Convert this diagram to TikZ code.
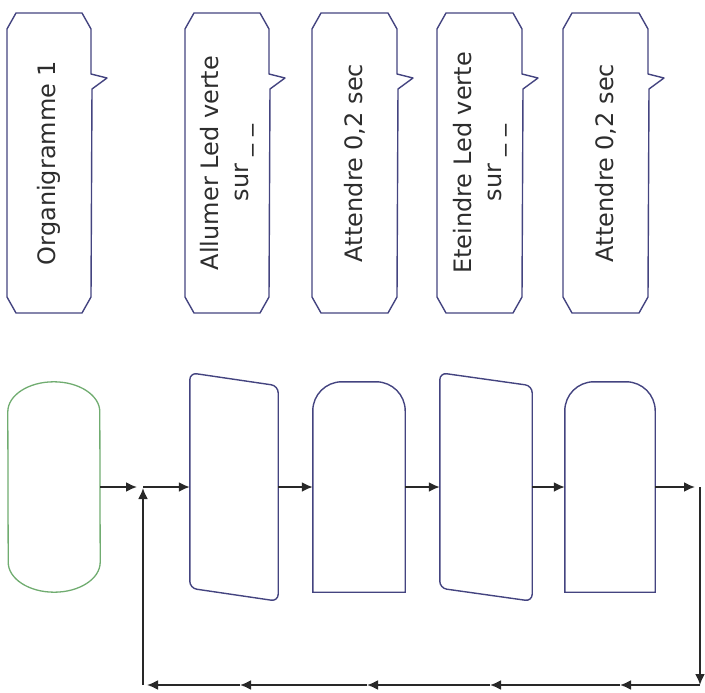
\documentclass[tikz,border=0pt]{standalone}
\usepackage{fontspec}
\setmainfont{DejaVu Sans}
\usetikzlibrary{arrows.meta, calc}

\definecolor{cadre}{RGB}{68,68,128}
\definecolor{vertdebut}{RGB}{112,172,112}
\definecolor{trait}{RGB}{40,40,40}
\definecolor{texte}{RGB}{45,45,45}

% bulle de commentaire : bord gauche, bord droit
\newcommand{\bulle}[2]{%
	\draw[Bulle] (#1+9,-13) -- (#2-9,-13) -- (#2,-29) -- (#2,-74) -- (#2+16,-78)
		-- (#2+1,-89) -- (#2,-297) -- (#2-9,-313) -- (#1+9,-313) -- (#1,-297)
		-- (#1,-29) -- cycle;}

% bloc attente (haut arrondi)
\newcommand{\attente}[1]{%
	\draw[Forme] (#1.south west) -- ($(#1.north west)+(0,-29)$)
		arc[start angle=180, end angle=90, radius=29]
		-- ($(#1.north east)+(-29,0)$)
		arc[start angle=90, end angle=0, radius=29]
		-- (#1.south east) -- cycle;}

% bloc action (haut et bas en pente)
\newcommand{\action}[1]{%
	\draw[Forme, rounded corners=7pt] ($(#1.south west)+(0,13)$) -- (#1.north west)
		-- ($(#1.north east)+(0,-13)$) -- (#1.south east) -- cycle;}

\begin{document}
\begin{tikzpicture}[x=1pt, y=1pt]
			\tikzstyle{Bulle} = [draw=cadre, line width=1.4pt, line join=round]
			\tikzstyle{Forme} = [draw=cadre, line width=1.4pt]
			\tikzstyle{Debut} = [draw=vertdebut, line width=1.3pt]
			\tikzstyle{Bloc} = [ %rectangle invisible qui porte les ancres
				inner sep=0pt,
				minimum height=210pt
			]
			\tikzstyle{Texte} = [
				rotate=90,
				align=center,
				inner sep=0pt,
				text=texte,
				font=\fontsize{24}{30}\selectfont
			]
			\tikzstyle{Fleche} = [
				draw=trait,
				line width=1.9pt,
				-{Latex[length=11pt, width=10pt]}
			]

			\useasboundingbox (0,0) rectangle (705,-693);

			% commentaires
			\bulle{7}{91}
			\bulle{185}{269}
			\bulle{312}{397}
			\bulle{437}{522}
			\bulle{563}{648}
			\node (com1) [Texte] at (49,-163) {Organigramme 1};
			\node (com2) [Texte] at (227,-163) {Allumer Led verte\\sur \_ \_};
			\node (com3) [Texte] at (355,-163) {Attendre 0,2 sec};
			\node (com4) [Texte] at (480,-163) {Eteindre Led verte\\sur \_ \_};
			\node (com5) [Texte] at (606,-163) {Attendre 0,2 sec};

			% organigramme
			\node (debut) [Bloc, minimum width=92pt] at (54,-487) {};
			\node (allumer) [Bloc, minimum width=88pt, minimum height=228pt] at (234,-487) {};
			\node (att1) [Bloc, minimum width=92pt] at (359,-487) {};
			\node (eteindre) [Bloc, minimum width=92pt, minimum height=228pt] at (486,-487) {};
			\node (att2) [Bloc, minimum width=90pt] at (610,-487) {};

			\draw[Debut] ($(debut.north west)+(0,-30)$)
				arc[start angle=180, end angle=0, x radius=46, y radius=30]
				-- ($(debut.south east)+(0,30)$)
				arc[start angle=0, end angle=-180, x radius=46, y radius=30] -- cycle;
			\action{allumer}
			\attente{att1}
			\action{eteindre}
			\attente{att2}

			\coordinate (jonction) at (143,-487);
			\coordinate (coinH) at (700,-487);
			\coordinate (coinB) at (700,-685);
			\coordinate (retour5) at (620,-685);
			\coordinate (retour4) at (490,-685);
			\coordinate (retour3) at (367,-685);
			\coordinate (retour2) at (240,-685);
			\coordinate (coinG) at (143,-685);

			\draw[Fleche, shorten >=6pt] (debut.east) -- (jonction);
			\draw[Fleche] (jonction) -- (allumer.west);
			\draw[Fleche] (allumer.east) -- (att1.west);
			\draw[Fleche] (att1.east) -- (eteindre.west);
			\draw[Fleche] (eteindre.east) -- (att2.west);
			\draw[Fleche, shorten >=5pt] (att2.east) -- (coinH);
			\draw[Fleche] (coinH) -- (coinB);
			\draw[Fleche] (coinB) -- (retour5);
			\draw[Fleche] (retour5) -- (retour4);
			\draw[Fleche] (retour4) -- (retour3);
			\draw[Fleche] (retour3) -- (retour2);
			\draw[Fleche, shorten >=4pt] (retour2) -- (coinG);
			\draw[Fleche, shorten >=1pt] (coinG) -- (jonction);
\end{tikzpicture}
\end{document}
